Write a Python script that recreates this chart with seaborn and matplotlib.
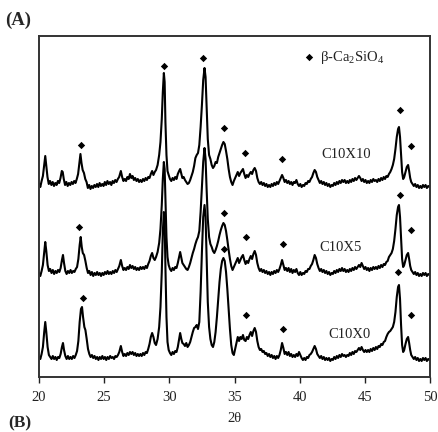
import numpy as np
import pandas as pd
import matplotlib
matplotlib.use("Agg")
import matplotlib.pyplot as plt
import seaborn as sns

# ---------------- data (2theta, intensity in arbitrary units) ----------------
c10x10_points = [
 (20.00,193),(20.10,190),(20.20,196),(20.30,201),(20.40,212),(20.48,221),(20.55,212),(20.65,200),(20.75,193),(20.85,196),
 (20.95,192),(21.05,195),(21.15,191),(21.25,194),(21.35,192),(21.45,196),(21.55,194),(21.65,199),(21.75,206),(21.82,205),
 (21.90,198),(22.00,192),(22.10,195),(22.20,191),(22.30,194),(22.40,192),(22.50,195),(22.60,193),(22.70,196),(22.80,194),
 (22.90,198),(23.00,203),(23.10,214),(23.18,223),(23.26,214),(23.35,207),(23.45,204),(23.55,198),(23.65,195),(23.75,189),
 (23.85,192),(23.95,188),(24.05,191),(24.15,189),(24.25,192),(24.35,190),(24.45,193),(24.55,190),(24.65,194),(24.75,191),
 (24.85,193),(24.95,191),(25.05,195),(25.15,192),(25.25,196),(25.35,193),(25.45,195),(25.55,192),(25.65,196),(25.75,194),
 (25.85,197),(25.95,195),(26.05,198),(26.15,200),(26.28,206),(26.38,200),(26.48,196),(26.58,198),(26.68,196),(26.78,200),
 (26.88,198),(26.98,203),(27.08,199),(27.18,201),(27.28,197),(27.38,199),(27.48,196),(27.58,198),(27.68,195),(27.78,197),
 (27.88,195),(27.98,198),(28.08,196),(28.18,199),(28.28,197),(28.38,200),(28.48,199),(28.58,203),(28.68,206),(28.78,202),
 (28.88,205),(28.98,207),(29.10,212),(29.22,222),(29.32,235),(29.42,258),(29.50,285),(29.58,304),(29.64,295),(29.70,255),
 (29.78,222),(29.86,206),(29.95,202),(30.05,198),(30.15,196),(30.25,199),(30.35,197),(30.45,200),(30.55,198),(30.65,203),
 (30.75,206),(30.83,208),(30.92,203),(31.00,199),(31.10,200),(31.20,197),(31.30,195),(31.40,193),(31.50,194),(31.60,197),
 (31.70,201),(31.80,205),(31.90,211),(32.00,219),(32.10,222),(32.20,224),(32.30,232),(32.40,250),(32.50,272),(32.60,297),
 (32.70,309),(32.78,300),(32.86,270),(32.95,238),(33.05,222),(33.15,218),(33.25,212),(33.35,209),(33.45,211),(33.55,215),
 (33.65,214),(33.75,220),(33.85,224),(33.95,228),(34.05,232),(34.15,235),(34.25,233),(34.35,226),(34.45,218),(34.55,208),
 (34.65,200),(34.75,195),(34.85,192),(34.95,196),(35.05,199),(35.15,202),(35.25,205),(35.35,201),(35.45,204),(35.55,206),
 (35.65,208),(35.75,203),(35.85,199),(35.95,202),(36.05,200),(36.15,203),(36.25,205),(36.35,203),(36.45,207),(36.55,209),
 (36.65,206),(36.75,199),(36.85,195),(36.95,193),(37.05,195),(37.15,192),(37.25,194),(37.35,191),(37.45,193),(37.55,190),
 (37.65,192),(37.75,190),(37.85,193),(37.95,191),(38.05,194),(38.15,192),(38.25,195),(38.35,193),(38.45,196),(38.55,199),
 (38.65,202),(38.75,199),(38.85,195),(38.95,197),(39.05,194),(39.15,196),(39.25,193),(39.35,195),(39.45,192),(39.55,195),
 (39.65,194),(39.75,197),(39.85,193),(39.95,191),(40.05,193),(40.15,190),(40.25,192),(40.35,191),(40.45,194),(40.55,193),
 (40.65,196),(40.75,195),(40.85,198),(40.95,200),(41.05,204),(41.15,207),(41.25,205),(41.35,200),(41.45,197),(41.55,194),
 (41.65,196),(41.75,193),(41.85,195),(41.95,192),(42.05,194),(42.15,191),(42.25,193),(42.35,190),(42.45,192),(42.55,191),
 (42.65,194),(42.75,192),(42.85,195),(42.95,193),(43.05,196),(43.15,194),(43.25,197),(43.35,195),(43.45,197),(43.55,194),
 (43.65,196),(43.75,194),(43.85,197),(43.95,195),(44.05,198),(44.15,196),(44.25,199),(44.35,197),(44.45,199),(44.55,201),
 (44.65,199),(44.75,196),(44.85,198),(44.95,195),(45.05,197),(45.15,194),(45.25,196),(45.35,194),(45.45,197),(45.55,195),
 (45.65,198),(45.75,196),(45.85,197),(45.95,195),(46.05,198),(46.15,196),(46.25,199),(46.35,197),(46.45,200),(46.55,198),
 (46.65,201),(46.75,200),(46.85,203),(46.95,205),(47.05,208),(47.15,212),(47.25,218),(47.35,228),(47.45,240),(47.55,248),
 (47.62,250),(47.70,240),(47.78,222),(47.86,205),(47.94,198),(48.02,200),(48.12,205),(48.22,210),(48.32,212),(48.40,206),
 (48.48,199),(48.56,195),(48.66,193),(48.76,191),(48.86,193),(48.96,190),(49.06,192),(49.16,189),(49.26,191),(49.36,189),
 (49.46,192),(49.56,190),(49.66,192),(49.76,189),(49.86,191),(49.96,190),(50.00,191)]

c10x5_points = [
 (20.00,104),(20.10,101),(20.20,106),(20.30,112),(20.40,125),(20.48,135),(20.56,126),(20.66,112),(20.76,106),(20.86,108),
 (20.96,104),(21.06,107),(21.16,103),(21.26,106),(21.36,104),(21.46,107),(21.56,105),(21.66,109),(21.76,117),(21.84,122),
 (21.92,114),(22.02,106),(22.12,103),(22.22,106),(22.32,104),(22.42,107),(22.52,104),(22.62,106),(22.72,105),(22.82,108),
 (22.92,110),(23.02,118),(23.12,132),(23.20,140),(23.28,130),(23.36,124),(23.46,122),(23.56,116),(23.66,109),(23.76,104),
 (23.86,106),(23.96,102),(24.06,105),(24.16,101),(24.26,104),(24.36,102),(24.46,105),(24.56,102),(24.66,104),(24.76,101),
 (24.86,104),(24.96,102),(25.06,105),(25.16,103),(25.26,106),(25.36,103),(25.46,105),(25.56,103),(25.66,106),(25.76,104),
 (25.86,107),(25.96,105),(26.06,108),(26.16,111),(26.28,117),(26.38,111),(26.48,107),(26.58,109),(26.68,107),(26.78,110),
 (26.88,108),(26.98,112),(27.08,109),(27.18,111),(27.28,108),(27.38,110),(27.48,107),(27.58,109),(27.68,107),(27.78,110),
 (27.88,108),(27.98,110),(28.08,108),(28.18,111),(28.28,109),(28.38,113),(28.48,116),(28.58,121),(28.68,124),(28.78,119),
 (28.88,117),(28.98,120),(29.10,125),(29.22,134),(29.32,148),(29.42,172),(29.50,198),(29.58,215),(29.64,208),(29.70,178),
 (29.78,140),(29.86,120),(29.95,112),(30.05,108),(30.15,106),(30.25,109),(30.35,107),(30.45,110),(30.55,109),(30.65,114),
 (30.75,120),(30.83,125),(30.92,119),(31.00,114),(31.10,112),(31.20,110),(31.30,108),(31.40,107),(31.50,110),(31.60,114),
 (31.70,119),(31.80,124),(31.90,128),(32.00,133),(32.10,137),(32.20,140),(32.30,146),(32.40,165),(32.50,190),(32.60,215),
 (32.70,229),(32.78,218),(32.86,188),(32.95,158),(33.05,140),(33.15,133),(33.25,130),(33.35,126),(33.45,124),(33.55,127),
 (33.65,131),(33.75,136),(33.85,142),(33.95,147),(34.05,151),(34.15,154),(34.25,152),(34.35,146),(34.45,137),(34.55,127),
 (34.65,118),(34.75,111),(34.85,107),(34.95,110),(35.05,113),(35.15,116),(35.25,119),(35.35,114),(35.45,117),(35.55,120),
 (35.65,122),(35.75,117),(35.85,113),(35.95,116),(36.05,114),(36.15,118),(36.25,121),(36.35,118),(36.45,123),(36.55,126),
 (36.65,122),(36.75,114),(36.85,109),(36.95,106),(37.05,108),(37.15,105),(37.25,107),(37.35,104),(37.45,106),(37.55,103),
 (37.65,105),(37.75,102),(37.85,105),(37.95,103),(38.05,106),(38.15,104),(38.25,107),(38.35,105),(38.45,108),(38.55,112),
 (38.65,117),(38.75,112),(38.85,107),(38.95,109),(39.05,106),(39.15,109),(39.25,105),(39.35,108),(39.45,104),(39.55,107),
 (39.65,105),(39.75,108),(39.85,104),(39.95,102),(40.05,105),(40.15,102),(40.25,104),(40.35,103),(40.45,106),(40.55,105),
 (40.65,108),(40.75,108),(40.85,111),(40.95,113),(41.05,117),(41.15,122),(41.25,119),(41.35,113),(41.45,109),(41.55,106),
 (41.65,108),(41.75,105),(41.85,107),(41.95,104),(42.05,106),(42.15,103),(42.25,105),(42.35,102),(42.45,104),(42.55,103),
 (42.65,106),(42.75,104),(42.85,107),(42.95,105),(43.05,108),(43.15,106),(43.25,109),(43.35,106),(43.45,108),(43.55,105),
 (43.65,107),(43.75,105),(43.85,108),(43.95,106),(44.05,109),(44.15,107),(44.25,110),(44.35,108),(44.45,110),(44.55,112),
 (44.65,110),(44.75,114),(44.85,111),(44.95,108),(45.05,110),(45.15,107),(45.25,109),(45.35,106),(45.45,109),(45.55,107),
 (45.65,110),(45.75,108),(45.85,110),(45.95,108),(46.05,111),(46.15,109),(46.25,112),(46.35,110),(46.45,113),(46.55,112),
 (46.65,115),(46.75,116),(46.85,120),(46.95,122),(47.05,124),(47.15,128),(47.25,136),(47.35,148),(47.45,162),(47.55,170),
 (47.62,172),(47.70,160),(47.78,138),(47.86,118),(47.94,110),(48.02,112),(48.12,117),(48.22,122),(48.32,124),(48.40,118),
 (48.48,111),(48.56,107),(48.66,105),(48.76,103),(48.86,105),(48.96,102),(49.06,104),(49.16,101),(49.26,103),(49.36,101),
 (49.46,104),(49.56,102),(49.66,104),(49.76,101),(49.86,103),(49.96,102),(50.00,103)]

c10x0_points = [
 (20.00,20),(20.10,18),(20.20,23),(20.30,30),(20.40,45),(20.48,55),(20.56,45),(20.66,30),(20.76,22),(20.86,20),
 (20.96,18),(21.06,21),(21.16,18),(21.26,20),(21.36,17),(21.46,20),(21.56,19),(21.66,23),(21.76,30),(21.84,34),
 (21.92,27),(22.02,21),(22.12,18),(22.22,21),(22.32,18),(22.42,20),(22.52,18),(22.62,21),(22.72,19),(22.82,22),
 (22.92,26),(23.02,36),(23.12,55),(23.22,68),(23.30,70),(23.38,60),(23.48,50),(23.56,47),(23.66,38),(23.76,28),
 (23.86,23),(23.96,20),(24.06,22),(24.16,19),(24.26,21),(24.36,18),(24.46,20),(24.56,17),(24.66,20),(24.76,18),
 (24.86,21),(24.96,18),(25.06,20),(25.16,17),(25.26,20),(25.36,18),(25.46,21),(25.56,19),(25.66,20),(25.76,18),
 (25.86,21),(25.96,20),(26.06,22),(26.16,25),(26.28,31),(26.38,25),(26.48,21),(26.58,23),(26.68,21),(26.78,24),
 (26.88,22),(26.98,25),(27.08,23),(27.18,25),(27.28,22),(27.38,24),(27.48,21),(27.58,23),(27.68,21),(27.78,23),
 (27.88,21),(27.98,24),(28.08,22),(28.18,25),(28.28,24),(28.38,28),(28.48,33),(28.58,40),(28.68,44),(28.78,40),
 (28.88,34),(28.98,32),(29.10,38),(29.22,50),(29.32,70),(29.42,105),(29.50,145),(29.58,165),(29.64,155),(29.70,110),
 (29.78,60),(29.86,35),(29.95,27),(30.05,24),(30.15,22),(30.25,25),(30.35,23),(30.45,26),(30.55,25),(30.65,30),
 (30.75,38),(30.83,44),(30.92,38),(31.00,34),(31.10,33),(31.20,31),(31.30,34),(31.40,30),(31.50,32),(31.60,35),
 (31.70,40),(31.80,45),(31.90,49),(32.00,50),(32.10,52),(32.20,48),(32.30,55),(32.40,85),(32.50,125),(32.60,160),
 (32.70,172),(32.78,160),(32.86,118),(32.95,75),(33.05,50),(33.15,38),(33.25,32),(33.35,30),(33.45,35),(33.55,45),
 (33.65,60),(33.75,78),(33.85,95),(33.95,108),(34.05,116),(34.15,119),(34.25,116),(34.35,105),(34.45,88),(34.55,68),
 (34.65,48),(34.75,32),(34.85,24),(34.95,22),(35.05,28),(35.15,34),(35.25,40),(35.35,36),(35.45,40),(35.55,38),
 (35.65,42),(35.75,37),(35.85,36),(35.95,40),(36.05,38),(36.15,42),(36.25,45),(36.35,41),(36.45,46),(36.55,49),
 (36.65,45),(36.75,36),(36.85,30),(36.95,27),(37.05,28),(37.15,25),(37.25,26),(37.35,23),(37.45,24),(37.55,21),
 (37.65,23),(37.75,20),(37.85,22),(37.95,19),(38.05,21),(38.15,18),(38.25,21),(38.35,19),(38.45,22),(38.55,27),
 (38.65,34),(38.75,29),(38.85,23),(38.95,25),(39.05,22),(39.15,25),(39.25,21),(39.35,23),(39.45,20),(39.55,22),
 (39.65,20),(39.75,23),(39.85,21),(39.95,25),(40.05,22),(40.15,19),(40.25,17),(40.35,19),(40.45,17),(40.55,20),
 (40.65,19),(40.75,22),(40.85,23),(40.95,25),(41.05,28),(41.15,31),(41.25,28),(41.35,23),(41.45,21),(41.55,19),
 (41.65,21),(41.75,18),(41.85,20),(41.95,17),(42.05,19),(42.15,17),(42.25,19),(42.35,16),(42.45,18),(42.55,17),
 (42.65,20),(42.75,18),(42.85,21),(42.95,19),(43.05,22),(43.15,20),(43.25,23),(43.35,21),(43.45,22),(43.55,20),
 (43.65,22),(43.75,21),(43.85,24),(43.95,22),(44.05,25),(44.15,23),(44.25,26),(44.35,25),(44.45,27),(44.55,29),
 (44.65,27),(44.75,30),(44.85,27),(44.95,25),(45.05,27),(45.15,25),(45.25,27),(45.35,25),(45.45,28),(45.55,26),
 (45.65,29),(45.75,27),(45.85,30),(45.95,28),(46.05,31),(46.15,30),(46.25,33),(46.35,32),(46.45,35),(46.55,36),
 (46.65,40),(46.75,43),(46.85,45),(46.95,46),(47.05,48),(47.15,50),(47.25,55),(47.35,65),(47.45,80),(47.55,90),
 (47.62,92),(47.70,78),(47.78,52),(47.86,32),(47.94,25),(48.02,27),(48.12,33),(48.22,38),(48.32,40),(48.40,34),
 (48.48,27),(48.56,22),(48.66,20),(48.76,18),(48.86,20),(48.96,17),(49.06,19),(49.16,16),(49.26,18),(49.36,16),
 (49.46,19),(49.56,17),(49.66,19),(49.76,16),(49.86,18),(49.96,17),(50.00,18)]

# beta-Ca2SiO4 peak markers (2theta, intensity)
markers_c10x10 = [(23.2,232),(29.57,311),(32.62,319),(34.22,249),(35.8,224),(38.67,218),(47.72,267),(48.55,231)]
markers_c10x5 = [(23.1,150),(34.22,164),(35.86,140),(38.7,133),(47.7,182),(48.55,147)]
markers_c10x0 = [(23.35,79),(34.22,128),(35.86,62),(38.7,48),(47.55,105),(48.55,62)]

sample_names = ["C10X10", "C10X5", "C10X0"]
label_pos = [(43.56, 222), (43.1, 130), (43.8, 43)]
x_ticks = [20, 25, 30, 35, 40, 45, 50]
x_label = "2θ"
legend_label = r"β-Ca$_2$SiO$_4$"

# ---------------- build tables ----------------
frames = []
for name, pts in zip(sample_names, [c10x10_points, c10x5_points, c10x0_points]):
    tt, ii = zip(*pts)
    frames.append(pd.DataFrame({"two_theta": tt, "intensity": ii, "sample": name}))
xrd = pd.concat(frames, ignore_index=True)

mk = []
for name, pts in zip(sample_names, [markers_c10x10, markers_c10x5, markers_c10x0]):
    tt, ii = zip(*pts)
    mk.append(pd.DataFrame({"two_theta": tt, "intensity": ii, "sample": name}))
mk = pd.concat(mk, ignore_index=True)

# ---------------- plotting ----------------
sns.set_theme(style="white")
plt.rcParams["font.family"] = ["Liberation Serif", "DejaVu Serif"]
plt.rcParams["mathtext.default"] = "regular"

fig = plt.figure(figsize=(4.39, 4.32), dpi=100)
ax = fig.add_axes([39/439, 1 - 377/432, (430-39)/439, (377-36)/432])

for name in sample_names:
    sns.lineplot(data=xrd[xrd["sample"] == name], x="two_theta", y="intensity",
                 estimator=None, sort=False, color="black", linewidth=1.5, ax=ax)

sns.scatterplot(data=mk, x="two_theta", y="intensity", marker="D", s=14,
                color="black", linewidth=0, ax=ax, legend=False)

for name, (lx, ly) in zip(sample_names, label_pos):
    ax.text(lx, ly, name, ha="center", va="center", fontsize=10.5, color="#222222")

# legend: marker + text
ax.scatter([40.72], [320], marker="D", s=14, color="black", linewidth=0)
ax.text(41.55, 320, legend_label, ha="left", va="center", fontsize=10.5, color="#222222")

ax.set_xlim(20, 50)
ax.set_ylim(0, 341)
ax.set_xticks(x_ticks)
ax.set_xticklabels([str(t) for t in x_ticks])
ax.set_yticks([])
ax.set_xlabel(x_label, fontsize=10.5, labelpad=6)
ax.set_ylabel("")
ax.tick_params(axis="x", direction="out", length=4, width=1, bottom=True,
               labelsize=10.5, pad=6, colors="#222222")
for s in ax.spines.values():
    s.set_visible(True)
    s.set_color("#333333")
    s.set_linewidth(1.4)

fig.text(5/439, 1 - 20/432, "(A)", fontsize=13.5, fontweight="bold", ha="left", va="center")
fig.text(8/439, 1 - 431.5/432, "(B)", fontsize=12.5, fontweight="bold", ha="left", va="bottom")

fig.savefig("out.png", dpi=100)
